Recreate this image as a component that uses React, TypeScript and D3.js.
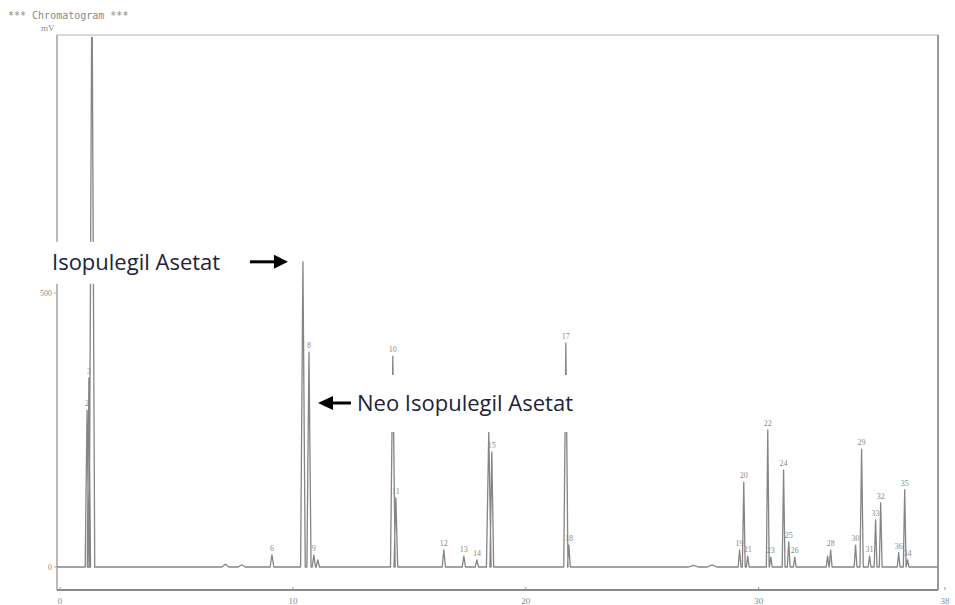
import React from 'react';
import * as d3 from 'd3';

// retention time (min), height (mV), peak label, half width (min)
const peakTimes = [1.16, 1.24, 1.37, 7.1, 7.8, 9.1, 10.43, 10.69, 10.9, 11.07, 14.29, 14.42, 16.48, 17.34, 17.9, 18.41, 18.54, 21.72, 21.85, 27.2, 28.0, 29.18, 29.36, 29.53, 30.39, 30.52, 31.07, 31.29, 31.55, 32.96, 33.09, 34.16, 34.42, 34.76, 35.02, 35.24, 36.01, 36.27, 36.39];
const peakHeights = [286, 345, 1100, 5, 4, 22, 557, 392, 22, 13, 385, 126, 31, 20, 13, 246, 210, 409, 40, 3, 4, 31, 155, 20, 250, 18, 177, 46, 18, 20, 31, 40, 215, 20, 86, 117, 26, 141, 13];
const peakLabels = ['2', '3', '1', '', '', '6', '', '8', '9', '', '10', '11', '12', '13', '14', '', '15', '17', '18', '', '', '19', '20', '21', '22', '23', '24', '25', '26', '', '28', '30', '29', '31', '33', '32', '36', '35', '34'];
const peakWidths = [0.08, 0.07, 0.12, 0.15, 0.15, 0.08, 0.1, 0.09, 0.07, 0.07, 0.1, 0.08, 0.07, 0.07, 0.07, 0.1, 0.08, 0.09, 0.06, 0.2, 0.2, 0.06, 0.06, 0.06, 0.06, 0.06, 0.06, 0.06, 0.06, 0.06, 0.06, 0.06, 0.07, 0.06, 0.06, 0.06, 0.06, 0.06, 0.06];

const xTicks = [0, 10, 20, 30, 38];
const yTicks = [0, 500];

const W = 955;
const H = 605;
const plot = { left: 57, right: 938, top: 35, bottom: 590 };

const App: React.FC = () => {
  const x = d3.scaleLinear().domain([-0.13, 37.7]).range([plot.left, plot.right]);
  const y = d3.scaleLinear().domain([-42, 971]).range([plot.bottom, plot.top]);

  const peaks = peakTimes.map((t, i) => ({ t, h: peakHeights[i], label: peakLabels[i], w: peakWidths[i] }));

  // trace: baseline with a narrow peak for each compound
  const pts: [number, number][] = [[-0.13, 0]];
  peaks.forEach(p => {
    pts.push([p.t - p.w, 0], [p.t, p.h], [p.t + p.w, 0]);
  });
  pts.push([37.7, 0]);
  const line = d3.line<[number, number]>().x(d => x(d[0])).y(d => y(d[1]));

  const iso = peaks[6];
  const neo = peaks[7];
  const isoY = y(iso.h);
  const neoY = 403;

  const annotFont = '"Open Sans", "Noto Sans", sans-serif';
  const annotColor = '#22223a';

  return (
    <svg width={W} height={H} style={{ position: 'absolute', left: 0, top: 0, background: '#fff' }}>
      <defs>
        <clipPath id="plotClip">
          <rect x={plot.left} y={plot.top + 2} width={plot.right - plot.left} height={plot.bottom - plot.top} />
        </clipPath>
      </defs>

      <text x={8} y={19} fontFamily='"DejaVu Sans Mono", monospace' fontSize={10} fill="#8a8a8a">*** Chromatogram ***</text>
      <text x={41} y={31} fontFamily="serif" fontSize={9} fill="#8a8a8a">mV</text>

      {/* frame */}
      <rect x={plot.left} y={plot.top} width={plot.right - plot.left} height={plot.bottom - plot.top}
        fill="none" stroke="#b5b5b5" strokeWidth={1} />
      <line x1={plot.left} x2={plot.right} y1={plot.bottom} y2={plot.bottom} stroke="#8a8a8a" strokeWidth={2} />
      <line x1={plot.right} x2={plot.right} y1={plot.top} y2={plot.bottom} stroke="#9a9a9a" strokeWidth={2} />
      <line x1={plot.left} x2={plot.left} y1={plot.top} y2={plot.bottom} stroke="#a5a5a5" strokeWidth={1.2} />

      {/* axes labels */}
      {yTicks.map(v => (
        <g key={v}>
          <line x1={plot.left - 3} x2={plot.left} y1={y(v)} y2={y(v)} stroke="#aaa" />
          <text x={plot.left - 5} y={y(v) + 3} textAnchor="end" fontFamily="serif" fontSize={8} fill="#8a8a8a">{v}</text>
        </g>
      ))}
      {xTicks.map(v => (
        <g key={v}>
          <line x1={x(v)} x2={x(v)} y1={plot.bottom} y2={plot.bottom - 3} stroke="#999" />
          <text x={x(v)} y={H - 1} textAnchor="middle" fontFamily="serif" fontSize={9} fill="#8a8a8a">{v}</text>
        </g>
      ))}

      {/* chromatogram trace */}
      <g clipPath="url(#plotClip)">
        <path d={line(pts) || ''} fill="none" stroke="#858585" strokeWidth={1.3} strokeLinejoin="round" />
      </g>

      {/* peak numbers */}
      {peaks.filter(p => p.label).map((p, i) => (
        <text key={i} x={x(p.t)} y={Math.max(y(p.h) - 4, plot.top + 10)} textAnchor="middle"
          fontFamily="serif" fontSize={8} fill="#8a8a8a">{p.label}</text>
      ))}

      {/* annotation: Isopulegil Asetat */}
      <rect x={44} y={isoY - 20} width={x(iso.t) - 56} height={42} fill="#fff" />
      <text x={52} y={isoY + 8} fontFamily={annotFont} fontSize={22} fill={annotColor}>Isopulegil Asetat</text>
      <line x1={x(iso.t) - 53} x2={x(iso.t) - 26} y1={isoY} y2={isoY} stroke="#000" strokeWidth={3} />
      <path d={`M${x(iso.t) - 15},${isoY} L${x(iso.t) - 29},${isoY - 7} L${x(iso.t) - 29},${isoY + 7} Z`} fill="#000" />

      {/* annotation: Neo Isopulegil Asetat */}
      <rect x={x(neo.t) + 7} y={375} width={300} height={57} fill="#fff" />
      <text x={x(neo.t) + 48} y={neoY + 8} fontFamily={annotFont} fontSize={22} fill={annotColor}>Neo Isopulegil Asetat</text>
      <line x1={x(neo.t) + 22} x2={x(neo.t) + 42} y1={neoY} y2={neoY} stroke="#000" strokeWidth={3} />
      <path d={`M${x(neo.t) + 9},${neoY} L${x(neo.t) + 24},${neoY - 7} L${x(neo.t) + 24},${neoY + 7} Z`} fill="#000" />
    </svg>
  );
};

export default App;
